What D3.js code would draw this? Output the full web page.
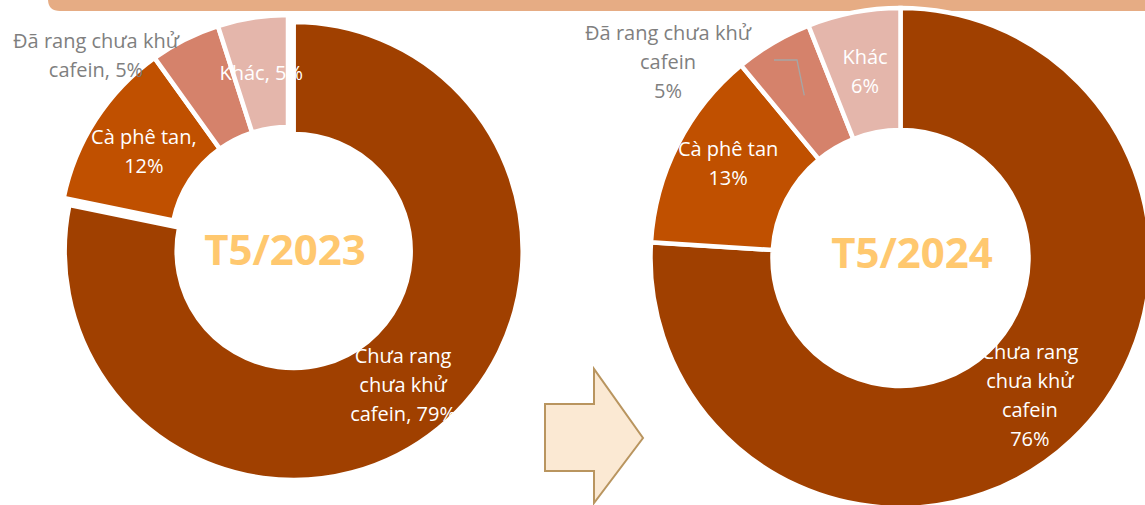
<!DOCTYPE html>
<html><head><meta charset="utf-8">
<script src="https://cdn.jsdelivr.net/npm/d3@7"></script>
<style>body{margin:0;background:#fff}svg{display:block}</style>
</head><body>
<svg id="c" width="1145" height="505"></svg>
<script>
// ---- data ----
const categories = ["Chưa rang chưa khử cafein", "Cà phê tan", "Đã rang chưa khử cafein", "Khác"];
const values2023 = [79, 12, 5, 5];
const values2024 = [76, 13, 5, 6];
const periods = ["T5/2023", "T5/2024"];
const labelLines2023 = [["Chưa rang", "chưa khử", "cafein, {v}%"], ["Cà phê tan,", "{v}%"], ["Đã rang chưa khử", "cafein, {v}%"], ["Khác, {v}%"]];
const labelLines2024 = [["Chưa rang", "chưa khử", "cafein", "{v}%"], ["Cà phê tan", "{v}%"], ["Đã rang chưa khử", "cafein", "{v}%"], ["Khác", "{v}%"]];
const colors = ["#A04000", "#C05000", "#D5826B", "#E4B6AB"];

const svg = d3.select("#c");
const FONT = "'Open Sans', 'Noto Sans', sans-serif";

// top band
svg.append("path")
  .attr("d", "M48,-5 L1150,-5 L1150,11 L60,11 Q48,11 48,-1 Z")
  .attr("fill", "#E6AC84");

// arrow
const arrowPts = [[545,404],[594,404],[594,369],[643,438],[594,503],[594,471],[545,471]];
svg.append("polygon").attr("points", arrowPts.map(p => p.join(",")).join(" "))
  .attr("fill", "#FBE9D3").attr("stroke", "#B9955F").attr("stroke-width", 2);

const charts = [
  {values: values2023, lines: labelLines2023, title: periods[0], cx: 288, cy: 244, R: 229, r: 117,
   explode: [9, 0, 0, 0], nudge: [[0, 0], [1, 2], [0, 0], [0, 0]],
   outside: {x: 96, y: 41}, leader: false, titleX: 285, titleY: 248},
  {values: values2024, lines: labelLines2024, title: periods[1], cx: 900.5, cy: 258, R: 250, r: 128,
   explode: [0, 0, 0, 0], nudge: [[0, 0], [-4, -9], [0, 0], [0, -1]],
   outside: {x: 668, y: 33}, leader: true, titleX: 912, titleY: 251}
];

const pie = d3.pie().sort(null).value(d => d);
const lineH = 29;

charts.forEach(ch => {
  const g = svg.append("g").attr("transform", `translate(${ch.cx},${ch.cy})`);
  const arc = d3.arc().innerRadius(ch.r).outerRadius(ch.R);
  const mid = d3.arc().innerRadius((ch.r + ch.R) / 2).outerRadius((ch.r + ch.R) / 2);
  const arcs = pie(ch.values);
  const off = (d, i) => {
    const a = (d.startAngle + d.endAngle) / 2, e = ch.explode[i];
    return [Math.sin(a) * e, -Math.cos(a) * e];
  };
  g.selectAll("path.s").data(arcs).join("path")
    .attr("class", "s")
    .attr("d", arc)
    .attr("transform", (d, i) => `translate(${off(d, i)})`)
    .attr("fill", (d, i) => colors[i])
    .attr("stroke", "#fff").attr("stroke-width", 4.5).attr("stroke-linejoin", "miter");

  // title
  g.append("text").attr("x", ch.titleX - ch.cx).attr("y", ch.titleY - ch.cy)
    .attr("text-anchor", "middle").attr("dominant-baseline", "central")
    .attr("font-family", FONT).attr("font-weight", "bold").attr("font-size", 42)
    .attr("fill", "#FFC86F").text(ch.title);

  arcs.forEach((d, i) => {
    const lines = ch.lines[i].map(s => s.replace("{v}", ch.values[i]));
    let x, y, fill;
    const c = mid.centroid(d), o = off(d, i), n = ch.nudge[i];
    if (i === 2) {
      x = ch.outside.x - ch.cx; y = ch.outside.y - ch.cy; fill = "#7F7F7F";
      if (ch.leader) {
        const p = [[774 - ch.cx, 60 - ch.cy], [797 - ch.cx, 60 - ch.cy], [c[0], c[1]]];
        g.append("polyline").attr("points", p.map(q => q.join(",")).join(" "))
          .attr("fill", "none").attr("stroke", "#A6A6A6").attr("stroke-width", 1.3);
      }
    } else {
      x = c[0] + o[0] + n[0]; y = c[1] + o[1] + n[1] - (lines.length - 1) * lineH / 2; fill = "#fff";
    }
    const t = g.append("text").attr("font-family", FONT).attr("font-size", 20)
      .attr("fill", fill).attr("text-anchor", "middle");
    lines.forEach((s, k) => {
      t.append("tspan").attr("x", x).attr("y", y + k * lineH).attr("dy", "0.35em").text(s);
    });
  });
});
</script>
</body></html>
